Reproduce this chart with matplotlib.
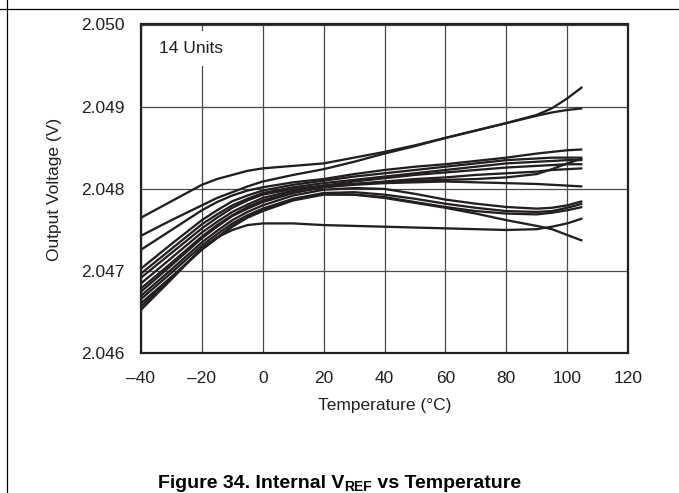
import matplotlib
matplotlib.use('Agg')
import matplotlib.pyplot as plt
from matplotlib import font_manager
from matplotlib.lines import Line2D

names = {f.name for f in font_manager.fontManager.ttflist}
NARROW = 'Liberation Sans Narrow' if 'Liberation Sans Narrow' in names else 'Liberation Sans'
plt.rcParams['font.family'] = ['Liberation Sans', 'DejaVu Sans']

INK = '#231f20'

# ---- data (temperature in degC, output voltage in V) ----
temps = [-40, -30, -20, -15, -10, -5, 0, 10, 20, 30, 40, 50, 60, 70, 80, 90, 95, 100, 105]

unit01 = [2.04765, 2.04785, 2.04805, 2.04812, 2.04817, 2.04822, 2.04825, 2.04828, 2.04831, 2.04838, 2.04845, 2.04853, 2.04862, 2.04871, 2.04880, 2.04890, 2.04898, 2.04910, 2.04924]
unit02 = [2.04743, 2.04762, 2.04780, 2.04789, 2.04796, 2.04803, 2.04809, 2.04817, 2.04824, 2.04833, 2.04843, 2.04852, 2.04862, 2.04871, 2.04880, 2.04889, 2.04893, 2.04896, 2.04898]
unit03 = [2.04726, 2.04750, 2.04774, 2.04784, 2.04792, 2.04798, 2.04802, 2.04808, 2.04812, 2.04818, 2.04823, 2.04827, 2.04830, 2.04834, 2.04838, 2.04843, 2.04845, 2.04847, 2.04848]
unit04 = [2.04703, 2.04733, 2.04762, 2.04774, 2.04785, 2.04792, 2.04798, 2.04805, 2.04810, 2.04815, 2.04819, 2.04823, 2.04827, 2.04831, 2.04835, 2.04837, 2.04838, 2.04838, 2.04838]
unit05 = [2.04692, 2.04722, 2.04752, 2.04765, 2.04777, 2.04786, 2.04793, 2.04800, 2.04804, 2.04806, 2.04808, 2.04810, 2.04811, 2.04812, 2.04814, 2.04818, 2.04824, 2.04831, 2.04837]
unit06 = [2.04697, 2.04727, 2.04757, 2.04769, 2.04780, 2.04788, 2.04795, 2.04802, 2.04807, 2.04811, 2.04815, 2.04819, 2.04823, 2.04827, 2.04831, 2.04833, 2.04834, 2.04835, 2.04835]
unit07 = [2.04685, 2.04716, 2.04747, 2.04760, 2.04772, 2.04781, 2.04789, 2.04798, 2.04804, 2.04809, 2.04813, 2.04817, 2.04820, 2.04823, 2.04826, 2.04828, 2.04829, 2.04830, 2.04830]
unit08 = [2.04679, 2.04710, 2.04742, 2.04756, 2.04768, 2.04778, 2.04786, 2.04796, 2.04802, 2.04806, 2.04809, 2.04812, 2.04814, 2.04817, 2.04819, 2.04821, 2.04823, 2.04824, 2.04825]
unit09 = [2.04675, 2.04707, 2.04740, 2.04754, 2.04767, 2.04776, 2.04784, 2.04795, 2.04802, 2.04805, 2.04807, 2.04808, 2.04809, 2.04808, 2.04807, 2.04806, 2.04805, 2.04804, 2.04803]
unit10 = [2.04670, 2.04702, 2.04735, 2.04749, 2.04762, 2.04772, 2.04780, 2.04792, 2.04799, 2.04801, 2.04800, 2.04794, 2.04787, 2.04782, 2.04778, 2.04776, 2.04777, 2.04780, 2.04785]
unit11 = [2.04666, 2.04698, 2.04731, 2.04745, 2.04758, 2.04768, 2.04776, 2.04788, 2.04795, 2.04796, 2.04793, 2.04788, 2.04782, 2.04777, 2.04773, 2.04772, 2.04773, 2.04777, 2.04782]
unit12 = [2.04661, 2.04693, 2.04726, 2.04740, 2.04754, 2.04765, 2.04773, 2.04786, 2.04793, 2.04793, 2.04790, 2.04784, 2.04778, 2.04773, 2.04770, 2.04769, 2.04771, 2.04774, 2.04778]
unit13 = [2.04653, 2.04690, 2.04728, 2.04741, 2.04750, 2.04756, 2.04758, 2.04758, 2.04756, 2.04755, 2.04754, 2.04753, 2.04752, 2.04751, 2.04750, 2.04751, 2.04754, 2.04758, 2.04764]
unit14 = [2.04657, 2.04692, 2.04727, 2.04741, 2.04755, 2.04766, 2.04774, 2.04787, 2.04794, 2.04793, 2.04789, 2.04783, 2.04777, 2.04770, 2.04762, 2.04755, 2.04751, 2.04744, 2.04737]

units = [unit01, unit02, unit03, unit04, unit05, unit06, unit07,
         unit08, unit09, unit10, unit11, unit12, unit13, unit14]

x_ticks = [-40, -20, 0, 20, 40, 60, 80, 100, 120]
x_tick_labels = ['\u201340', '\u201320', '0', '20', '40', '60', '80', '100', '120']
y_ticks = [2.046, 2.047, 2.048, 2.049, 2.050]
y_tick_labels = ['2.046', '2.047', '2.048', '2.049', '2.050']

W, H = 679, 493
fig = plt.figure(figsize=(W / 100, H / 100), dpi=100)
fig.patch.set_facecolor('white')

# page frame lines
fig.add_artist(Line2D([0, 1], [1 - 9.3 / H, 1 - 9.3 / H], transform=fig.transFigure, color='black', lw=0.9))
fig.add_artist(Line2D([7.3 / W, 7.3 / W], [0, 1], transform=fig.transFigure, color='black', lw=0.9))

L, R, T, B = 141, 628, 24.5, 353.3
ax = fig.add_axes([L / W, 1 - B / H, (R - L) / W, (B - T) / H])

for u in units:
    ax.plot(temps, u, color=INK, lw=1.65, solid_joinstyle='round', solid_capstyle='butt', zorder=3)

ax.set_xlim(-40, 120)
ax.set_ylim(2.046, 2.050)
ax.set_xticks(x_ticks)
ax.set_xticklabels(x_tick_labels)
ax.set_yticks(y_ticks)
ax.set_yticklabels(y_tick_labels)
ax.tick_params(axis='both', length=0, labelsize=12.5, colors=INK)
ax.tick_params(axis='y', pad=12)
ax.tick_params(axis='x', pad=12.5)
ax.grid(True, color='#4a4a4a', lw=0.9, zorder=1)
ax.set_axisbelow(True)
for s in ax.spines.values():
    s.set_linewidth(1.6)
    s.set_color(INK)
    s.set_zorder(5)

ax.text((159.3 - L) / (R - L), (B - 48.5) / (B - T), '14 Units', transform=ax.transAxes,
        ha='left', va='center', fontsize=12.5, color=INK, zorder=4,
        bbox=dict(facecolor='white', edgecolor='none', pad=7))

fig.text(384.5 / W, 1 - 405.5 / H, 'Temperature (\u00b0C)', ha='center', va='center',
         fontsize=12.5, color=INK)
fig.text(54.3 / W, 1 - 189.2 / H, 'Output Voltage (V)', ha='center', va='center',
         rotation=90, fontsize=12.5, color=INK)

# caption with subscript
renderer = fig.canvas.get_renderer()
base_y = 1 - 487.5 / H
cap_kw = dict(family=[NARROW, 'DejaVu Sans'], fontweight='bold', color='black', va='baseline')
t1 = fig.text(0, base_y, 'Figure 34. Internal V', fontsize=14, **cap_kw)
t2 = fig.text(0, base_y - 3.5 / H, 'REF', fontsize=10, **cap_kw)
t3 = fig.text(0, base_y, ' vs Temperature', fontsize=14, **cap_kw)
w1 = t1.get_window_extent(renderer).width
w2 = t2.get_window_extent(renderer).width
w3 = t3.get_window_extent(renderer).width
total = w1 + w2 + w3
x0 = 339.5 - total / 2
t1.set_x(x0 / W)
t2.set_x((x0 + w1) / W)
t3.set_x((x0 + w1 + w2) / W)

fig.savefig('out.png', dpi=100)
